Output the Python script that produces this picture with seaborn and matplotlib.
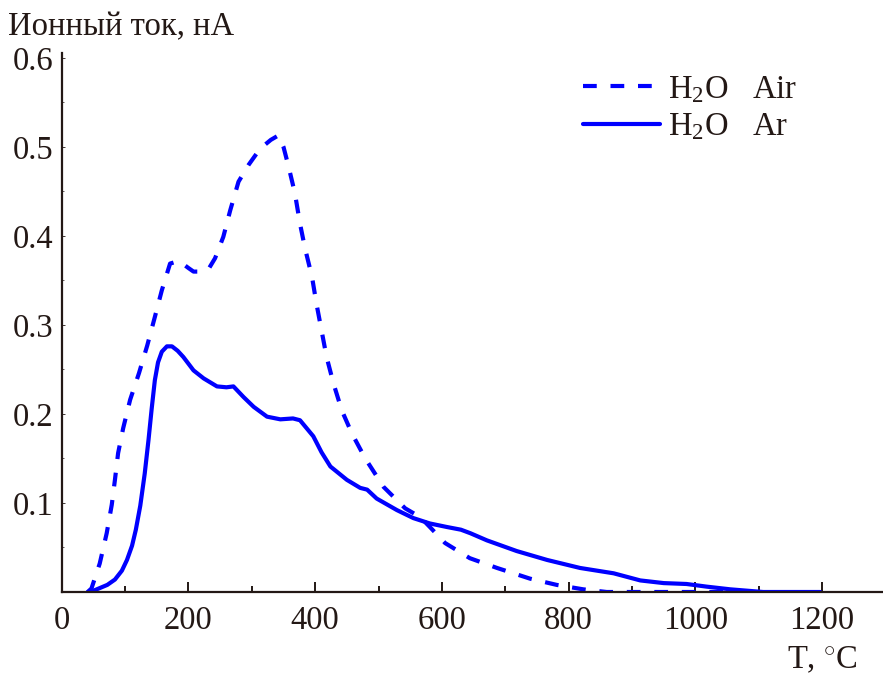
import numpy as np
import pandas as pd
import matplotlib
matplotlib.use("Agg")
import matplotlib.pyplot as plt
import seaborn as sns
from matplotlib.lines import Line2D
from matplotlib.ticker import MultipleLocator

# ---- data ----
air_T = [41, 47, 60, 71, 79, 84, 89, 97, 108, 122, 135, 147, 158, 171, 185, 200, 208, 220, 231, 242,
         255, 266, 279, 295, 313, 330, 342, 350, 358, 368, 376, 384, 395, 402, 410, 418, 429, 442,
         458, 479, 508, 542, 566, 581, 605, 644, 687, 739, 781, 823, 860, 1050]
air_I = [0.0, 0.004, 0.032, 0.066, 0.098, 0.126, 0.156, 0.184, 0.216, 0.246, 0.277, 0.309, 0.339, 0.369,
         0.372, 0.364, 0.360, 0.360, 0.362, 0.375, 0.399, 0.429, 0.461, 0.480, 0.498, 0.508, 0.513, 0.500,
         0.478, 0.448, 0.414, 0.386, 0.354, 0.324, 0.294, 0.264, 0.234, 0.204, 0.178, 0.150, 0.118, 0.094,
         0.084, 0.073, 0.055, 0.038, 0.027, 0.015, 0.008, 0.003, 0.0, 0.0]

ar_T = [41, 52, 62, 72, 84, 95, 103, 111, 117, 124, 131, 137, 142, 147, 152, 158, 166, 174, 183, 192, 208,
        224, 245, 260, 271, 287, 303, 324, 345, 365, 376, 397, 410, 424, 450, 471, 482, 497, 529, 555,
        581, 608, 630, 645, 671, 718, 766, 818, 871, 913, 950, 986, 1018, 1055, 1107, 1197]
ar_I = [0.0, 0.002, 0.005, 0.008, 0.014, 0.024, 0.036, 0.052, 0.070, 0.097, 0.133, 0.171, 0.206, 0.238,
        0.258, 0.270, 0.276, 0.276, 0.271, 0.264, 0.249, 0.240, 0.231, 0.230, 0.231, 0.219, 0.208, 0.197,
        0.194, 0.195, 0.193, 0.175, 0.157, 0.141, 0.126, 0.117, 0.115, 0.105, 0.092, 0.083, 0.077, 0.073,
        0.070, 0.066, 0.058, 0.046, 0.036, 0.027, 0.021, 0.013, 0.010, 0.009, 0.006, 0.003, 0.0, 0.0]

x_ticks = [0, 200, 400, 600, 800, 1000, 1200]
y_ticks = [0.1, 0.2, 0.3, 0.4, 0.5, 0.6]
y_ticklabels = ["0.1", "0.2", "0.3", "0.4", "0.5", "0.6"]
label_air = "H$_2$O   Air"
label_ar = "H$_2$O   Ar"

# ---- style ----
sns.set_style("ticks")
plt.rcParams["font.family"] = ["Liberation Serif", "DejaVu Serif"]
plt.rcParams["mathtext.fontset"] = "custom"
plt.rcParams["mathtext.rm"] = "Liberation Serif"
plt.rcParams["mathtext.it"] = "Liberation Serif:italic"

blue = "#0000FF"
ink = "#231815"
fs = 23.5

fig = plt.figure(figsize=(8.83, 6.75), dpi=100)
ax = fig.add_axes([61.7 / 883, (675 - 592) / 675, (883 - 61.7) / 883, (592 - 53) / 675])

df_air = pd.DataFrame({"T": air_T, "I": air_I})
df_ar = pd.DataFrame({"T": ar_T, "I": ar_I})

dash = (0, (3.3, 3.3))
sns.lineplot(data=df_air, x="T", y="I", ax=ax, color=blue, lw=3.0, sort=False,
             linestyle=dash, estimator=None)
sns.lineplot(data=df_ar, x="T", y="I", ax=ax, color=blue, lw=3.0, sort=False,
             estimator=None)

ax.set_xlim(0, 1296)
ax.set_ylim(0, 0.6056)

ax.set_xticks(x_ticks)
ax.set_xticklabels([str(v) for v in x_ticks])
ax.xaxis.set_minor_locator(MultipleLocator(100))
ax.set_yticks(y_ticks)
ax.set_yticklabels(y_ticklabels)
ax.yaxis.set_minor_locator(MultipleLocator(0.05))

for s in ["top", "right"]:
    ax.spines[s].set_visible(False)
for s in ["left", "bottom"]:
    ax.spines[s].set_color(ink)
    ax.spines[s].set_linewidth(1.6)

ax.tick_params(axis="x", which="major", direction="in", length=7, width=1.4, color=ink,
               labelsize=fs, labelcolor=ink, pad=10)
ax.tick_params(axis="x", which="minor", direction="in", length=4, width=1.4, color=ink)
ax.tick_params(axis="y", which="major", direction="in", length=2.5, width=0.6, color=ink,
               labelsize=fs, labelcolor=ink, pad=6)
ax.tick_params(axis="y", which="minor", direction="in", length=1.5, width=0.5, color=ink)

ax.set_xlabel("")
ax.set_ylabel("")
fig.text(8 / 883, 1 - 27 / 675, "Ионный ток, нА", fontsize=fs, color=ink, ha="left", va="center")
fig.text(858 / 883, 1 - 660 / 675, "T, $^{\\circ}$C", fontsize=fs, color=ink, ha="right", va="center")

handles = [Line2D([], [], color=blue, lw=3.0, linestyle=dash),
           Line2D([], [], color=blue, lw=3.0)]
leg = ax.legend(handles, [label_air, label_ar], loc="upper left", bbox_to_anchor=(583 / 883, 1 - 74 / 675),
                bbox_transform=fig.transFigure, frameon=False, fontsize=fs, handlelength=2.36,
                handletextpad=0.25, labelspacing=0.2, borderpad=0, borderaxespad=0)
for t in leg.get_texts():
    t.set_color(ink)

fig.savefig("out.png", dpi=100)
